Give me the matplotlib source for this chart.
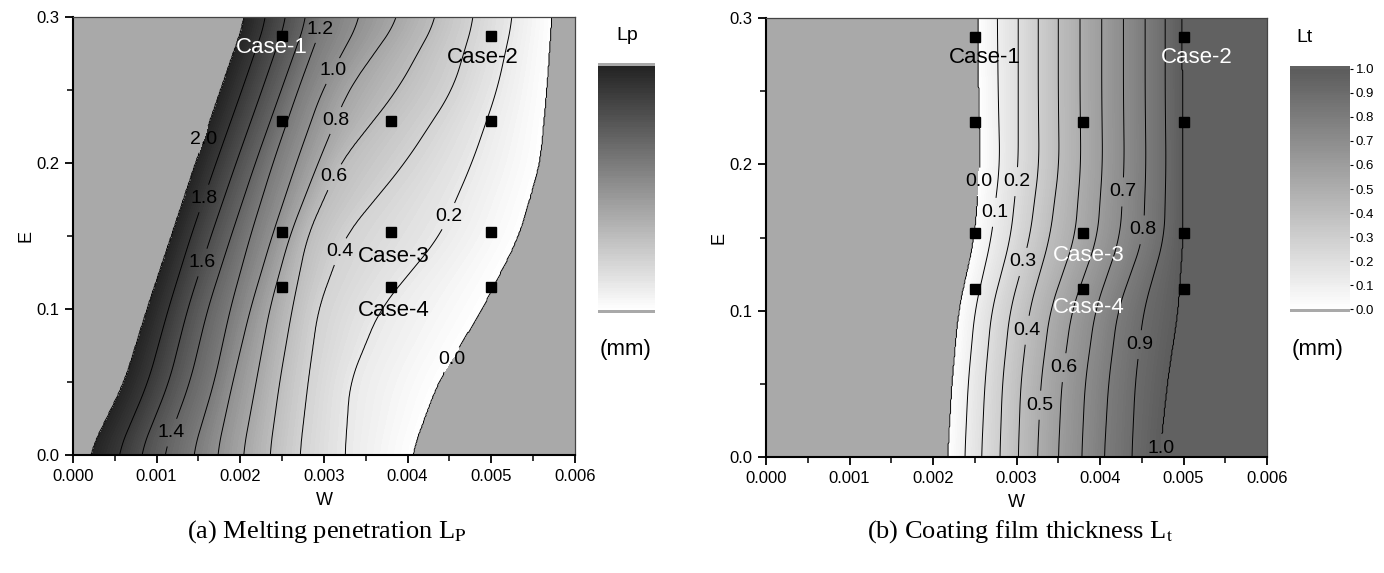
import numpy as np
import matplotlib.pyplot as plt
from matplotlib.colors import LinearSegmentedColormap
from matplotlib.ticker import MultipleLocator, FormatStrFormatter

plt.rcParams['font.family'] = ['Liberation Sans', 'DejaVu Sans']
plt.rcParams['mathtext.fontset'] = 'stix'

e_rows = [0.0, 0.05, 0.10, 0.15, 0.20, 0.25, 0.30]

# (a) melting penetration Lp : W position of each contour line, one list per E row
lp_levels = [2.0, 1.8, 1.6, 1.4, 1.2, 1.0, 0.8, 0.6, 0.4, 0.2, 0.0]
lp_w_e000 = [0.00018, 0.00053, 0.00080, 0.00108, 0.00143, 0.00172, 0.00203, 0.00235, 0.00271, 0.00325, 0.00405]
lp_w_e005 = [0.00061, 0.00090, 0.00115, 0.00140, 0.00169, 0.00191, 0.00219, 0.00247, 0.00281, 0.00331, 0.00437]
lp_w_e010 = [0.00088, 0.00114, 0.00137, 0.00161, 0.00188, 0.00212, 0.00235, 0.00262, 0.00293, 0.00367, 0.00490]
lp_w_e015 = [0.00117, 0.00141, 0.00165, 0.00189, 0.00212, 0.00238, 0.00259, 0.00280, 0.00325, 0.00439, 0.00534]
lp_w_e020 = [0.00146, 0.00171, 0.00195, 0.00218, 0.00239, 0.00267, 0.00293, 0.00319, 0.00397, 0.00477, 0.00559]
lp_w_e025 = [0.00176, 0.00202, 0.00226, 0.00249, 0.00269, 0.00298, 0.00329, 0.00388, 0.00454, 0.00507, 0.00567]
lp_w_e030 = [0.00206, 0.00232, 0.00256, 0.00280, 0.00301, 0.00345, 0.00391, 0.00436, 0.00480, 0.00526, 0.00573]

# (b) coating film thickness Lt
lt_levels = [0.0, 0.1, 0.2, 0.3, 0.4, 0.5, 0.6, 0.7, 0.8, 0.9, 1.0]
lt_w_e000 = [0.00217, 0.00238, 0.00258, 0.00280, 0.00302, 0.00325, 0.00350, 0.00378, 0.00405, 0.00438, 0.00472]
lt_w_e005 = [0.00222, 0.00242, 0.00262, 0.00283, 0.00305, 0.00329, 0.00354, 0.00382, 0.00410, 0.00442, 0.00481]
lt_w_e010 = [0.00230, 0.00250, 0.00270, 0.00292, 0.00315, 0.00340, 0.00366, 0.00394, 0.00421, 0.00452, 0.00494]
lt_w_e015 = [0.00249, 0.00270, 0.00293, 0.00316, 0.00340, 0.00370, 0.00397, 0.00424, 0.00452, 0.00477, 0.00500]
lt_w_e020 = [0.00256, 0.00280, 0.00302, 0.00327, 0.00351, 0.00377, 0.00403, 0.00429, 0.00455, 0.00479, 0.00500]
lt_w_e025 = [0.00254, 0.00278, 0.00302, 0.00326, 0.00350, 0.00376, 0.00402, 0.00428, 0.00454, 0.00478, 0.00499]
lt_w_e030 = [0.00253, 0.00277, 0.00302, 0.00326, 0.00350, 0.00376, 0.00402, 0.00428, 0.00454, 0.00478, 0.00499]

# calculation cases (black squares)
case_w = [0.0025, 0.0025, 0.0025, 0.0025, 0.0038, 0.0038, 0.0038, 0.005, 0.005, 0.005, 0.005]
case_e = [0.287, 0.229, 0.153, 0.115, 0.229, 0.153, 0.115, 0.287, 0.229, 0.153, 0.115]
case_names = ['Case-1', 'Case-2', 'Case-3', 'Case-4']
lp_case_xy = [(0.00238, 0.279), (0.0049, 0.272), (0.00383, 0.136), (0.00383, 0.099)]
lp_case_col = ['white', 'black', 'black', 'black']
lt_case_xy = [(0.00262, 0.273), (0.00516, 0.273), (0.00386, 0.138), (0.00386, 0.1025)]
lt_case_col = ['black', 'white', 'white', 'white']

# where the contour labels sit
lp_label_xy = [(0.00154, 0.217), (0.00155, 0.176), (0.00154, 0.132), (0.0012, 0.015),
               (0.00299, 0.291), (0.00304, 0.265), (0.00305, 0.2315), (0.00307, 0.192),
               (0.00316, 0.140), (0.00451, 0.163), (0.00454, 0.065)]
lt_label_xy = [(0.00256, 0.188), (0.00277, 0.167), (0.00304, 0.188), (0.0031, 0.133),
               (0.00308, 0.087), (0.00325, 0.0355), (0.00358, 0.061), (0.00432, 0.181),
               (0.00454, 0.155), (0.00452, 0.0765), (0.00466, 0.006)]


def build_field(rows, levels, below, above):
    # turn the read line positions into a grid (levels ordered along W)
    rows = np.array(rows)
    ww = np.linspace(0, 0.006, 601)
    ee = np.linspace(0, 0.3, 301)
    pos = np.array([np.interp(ee, e_rows, rows[:, k]) for k in range(rows.shape[1])])
    # soften the corners between the read rows a little
    n = 31
    padded = np.pad(pos, ((0, 0), (n // 2, n // 2)), mode='edge')
    pos = np.array([np.convolve(p, np.ones(n) / n, mode='valid') for p in padded])
    z = np.array([np.interp(ww, pos[:, i], levels, left=below, right=above) for i in range(len(ee))])
    return ww, ee, z


def style_axes(ax):
    ax.set_xlim(0, 0.006)
    ax.set_ylim(0, 0.3)
    ax.xaxis.set_major_locator(MultipleLocator(0.001))
    ax.xaxis.set_minor_locator(MultipleLocator(0.0005))
    ax.yaxis.set_major_locator(MultipleLocator(0.1))
    ax.yaxis.set_minor_locator(MultipleLocator(0.05))
    ax.xaxis.set_major_formatter(FormatStrFormatter('%.3f'))
    ax.yaxis.set_major_formatter(FormatStrFormatter('%.1f'))
    ax.tick_params(which='major', direction='out', length=6, width=1.3, labelsize=12, pad=4)
    ax.tick_params(which='minor', direction='out', length=4, width=1.1)
    ax.tick_params(top=False, right=False, which='both')
    for s in ['left', 'bottom']:
        ax.spines[s].set_linewidth(1.5)
    for s in ['top', 'right']:
        ax.spines[s].set_linewidth(0.9)
        ax.spines[s].set_color('#444444')
    ax.set_xlabel('W', fontsize=13, labelpad=6)
    ax.set_ylabel('E', fontsize=13, labelpad=1)


def add_labels(ax, cs, xy):
    texts = ax.clabel(cs, manual=xy, fmt='%.1f', fontsize=14, inline=True, inline_spacing=1)
    for t in texts:
        t.set_rotation(0)


fig = plt.figure(figsize=(13.84, 5.73), dpi=100)
serif = ['Liberation Serif', 'DejaVu Serif']

# ---------- (a) Lp ----------
ax1 = fig.add_axes([0.0527, 0.2059, 0.3627, 0.7644])
cmap_lp = LinearSegmentedColormap.from_list('lp', ['#ffffff', '#232323'], N=256)
cmap_lp.set_over('#a9a9a9')
cmap_lp.set_under('#a9a9a9')
w, e, z_lp = build_field([lp_w_e000, lp_w_e005, lp_w_e010, lp_w_e015, lp_w_e020, lp_w_e025, lp_w_e030],
                         lp_levels, 2.6, -0.6)
cf1 = ax1.contourf(w, e, z_lp, levels=np.linspace(0, 2.0, 101), cmap=cmap_lp, extend='both')
cs1 = ax1.contour(w, e, z_lp, levels=sorted(lp_levels), colors='black', linewidths=0.7)
add_labels(ax1, cs1, lp_label_xy)
ax1.plot(case_w, case_e, 's', color='black', markersize=6.5, linestyle='none')
for name, xy, col in zip(case_names, lp_case_xy, lp_case_col):
    ax1.text(xy[0], xy[1], name, color=col, fontsize=16, ha='center', va='center')
style_axes(ax1)

cax1 = fig.add_axes([0.4321, 0.4538, 0.0412, 0.4363])
cb1 = fig.colorbar(cf1, cax=cax1, extendrect=True, extendfrac=0.012)
cb1.outline.set_visible(False)
cb1.set_ticks([])
fig.text(627 / 1384, 1 - 36 / 573, 'Lp', fontsize=14, ha='center', va='center')
fig.text(626 / 1384, 1 - 350 / 573, '(mm)', fontsize=16, ha='center', va='center')

# ---------- (b) Lt ----------
ax2 = fig.add_axes([0.5535, 0.2024, 0.3620, 0.7661])
cmap_lt = LinearSegmentedColormap.from_list('lt', ['#ffffff', '#5c5c5c'], N=256)
cmap_lt.set_over('#616161')
cmap_lt.set_under('#a9a9a9')
w, e, z_lt = build_field([lt_w_e000, lt_w_e005, lt_w_e010, lt_w_e015, lt_w_e020, lt_w_e025, lt_w_e030],
                         lt_levels, -0.5, 1.5)
cf2 = ax2.contourf(w, e, z_lt, levels=np.linspace(0, 1.0, 101), cmap=cmap_lt, extend='both')
cs2 = ax2.contour(w, e, z_lt, levels=lt_levels, colors='black', linewidths=0.7)
add_labels(ax2, cs2, lt_label_xy)
ax2.plot(case_w, case_e, 's', color='black', markersize=6.5, linestyle='none')
for name, xy, col in zip(case_names, lt_case_xy, lt_case_col):
    ax2.text(xy[0], xy[1], name, color=col, fontsize=16, ha='center', va='center')
style_axes(ax2)

cax2 = fig.add_axes([0.9321, 0.4555, 0.0434, 0.4293])
cb2 = fig.colorbar(cf2, cax=cax2, extendrect=True, extendfrac=0.012)
cb2.outline.set_visible(False)
cb2.set_ticks(lt_levels)
cb2.ax.yaxis.set_major_formatter(FormatStrFormatter('%.1f'))
cb2.ax.tick_params(labelsize=9.5, length=2, width=0.8, pad=2)
fig.text(1305 / 1384, 1 - 37 / 573, 'Lt', fontsize=14, ha='center', va='center')
fig.text(1318 / 1384, 1 - 350 / 573, '(mm)', fontsize=16, ha='center', va='center')

# captions
fig.text(327 / 1384, 1 - 532 / 573, r'(a) Melting penetration L$_{\mathrm{P}}$',
         family=serif, fontsize=19, ha='center', va='center')
fig.text(1020 / 1384, 1 - 532 / 573, r'(b) Coating film thickness L$_{\mathrm{t}}$',
         family=serif, fontsize=19, ha='center', va='center')

fig.savefig('out.png', dpi=100)
